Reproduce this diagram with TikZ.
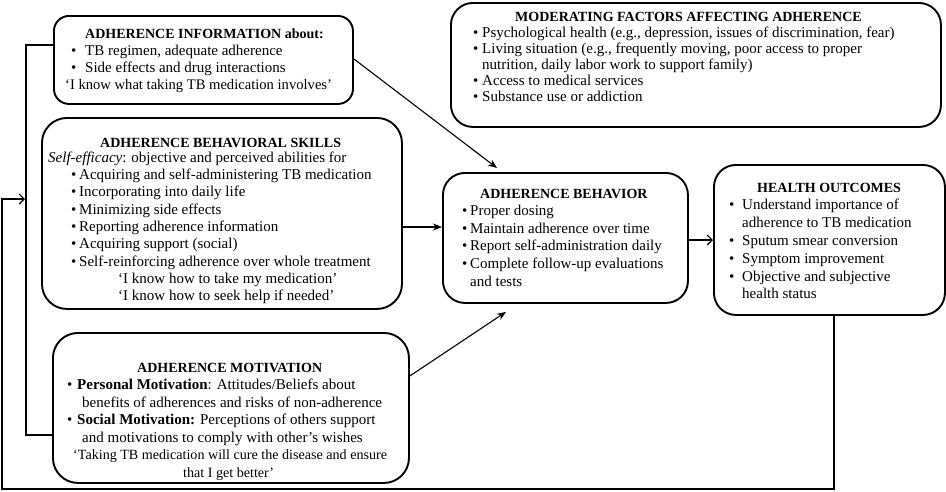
\documentclass[tikz,border=0pt]{standalone}
\usepackage{fontspec}
\setmainfont{Liberation Serif}
\usetikzlibrary{arrows.meta}
\newcommand\Ln[2]{\hbox{\kern#1pt #2}}
\newcommand\Bl[3]{\hbox{\kern#1pt\hbox to \dimexpr#2pt-#1pt\relax{\textbullet\hss}#3}}
\newcommand\ttl{\fontsize{14}{17}\selectfont\bfseries}
\newcommand\body[1]{\fontsize{15}{17.5}\selectfont\baselineskip=#1pt\lineskiplimit=-100pt\relax}
\tikzset{
  box/.style={draw, line width=1.9pt, rounded corners=#1, anchor=north west, inner sep=0pt},
  txt/.style={anchor=base west, inner sep=0pt, align=left},
  conn/.style={line width=1.1pt},
  farr/.style={conn, -{Stealth[length=9pt,width=7pt]}},
  oarr/.style={conn, -{Straight Barb[length=5pt,width=10pt]}}
}
\begin{document}
\begin{tikzpicture}[x=1pt,y=-1pt]
\useasboundingbox (0,0) rectangle (946,491);
% boxes
\node[box=15pt, minimum width=299pt, minimum height=88pt] (b1) at (53,15) {};
\node[box=25pt, minimum width=360pt, minimum height=191pt] (b2) at (41,117) {};
\node[box=25pt, minimum width=356pt, minimum height=150pt] (b3) at (52,332) {};
\node[box=22pt, minimum width=490pt, minimum height=124pt] (b4) at (450,2) {};
\node[box=22pt, minimum width=245pt, minimum height=130pt] (b5) at (442,172) {};
\node[box=22pt, minimum width=231pt, minimum height=150pt] (b6) at (713,164) {};
% texts
\node[txt] (t1) at (53,38) {\vtop{\body{17}
\Ln{32}{\ttl ADHERENCE INFORMATION about:}
\Bl{18}{32}{TB regimen, adequate adherence}
\Bl{18}{32}{Side effects and drug interactions}
\Ln{12}{\fontsize{14.6}{17}\selectfont ‘I know what taking TB medication involves’}}};
\node[txt] (t2) at (41,147) {\vtop{\body{17.3}
\Ln{59}{\ttl ADHERENCE BEHAVIORAL SKILLS}
\vskip-2pt
\Ln{7}{\textit{Self-efficacy}: objective and perceived abilities for}
\Bl{30}{38}{Acquiring and self-administering TB medication}
\Bl{30}{38}{Incorporating into daily life}
\Bl{30}{38}{Minimizing side effects}
\Bl{30}{38}{Reporting adherence information}
\Bl{30}{38}{Acquiring support (social)}
\Bl{30}{38}{Self-reinforcing adherence over whole treatment}
\Ln{77}{‘I know how to take my medication’}
\Ln{77}{‘I know how to seek help if needed’}}};
\node[txt] (t3) at (52,372) {\vtop{\body{17.5}
\Ln{85}{\ttl ADHERENCE MOTIVATION}
\Bl{15}{25}{\textbf{Personal Motivation}: Attitudes/Beliefs about}
\Ln{30}{benefits of adherences and risks of non-adherence}
\Bl{15}{25}{\textbf{Social Motivation:} Perceptions of others support}
\Ln{30}{and motivations to comply with other’s wishes}
\Ln{21}{\fontsize{14.1}{15}\selectfont ‘Taking TB medication will cure the disease and ensure}
\Ln{131}{\fontsize{14.1}{15}\selectfont that I get better’}}};
\node[txt] (t4) at (450,21) {\vtop{\body{16}
\Ln{65}{\ttl MODERATING FACTORS AFFECTING ADHERENCE}
\Bl{23}{32}{Psychological health (e.g., depression, issues of discrimination, fear)}
\Bl{23}{32}{Living situation (e.g., frequently moving, poor access to proper}
\Ln{32}{nutrition, daily labor work to support family)}
\Bl{23}{32}{Access to medical services}
\Bl{23}{32}{Substance use or addiction}}};
\node[txt] (t5) at (442,198) {\vtop{\body{17.6}
\Ln{38}{\ttl ADHERENCE BEHAVIOR}
\Bl{20}{28}{Proper dosing}
\Bl{20}{28}{Maintain adherence over time}
\Bl{20}{28}{Report self-administration daily}
\Bl{20}{28}{Complete follow-up evaluations}
\Ln{28}{and tests}}};
\node[txt] (t6) at (713,192) {\vtop{\body{17.8}
\Ln{44}{\ttl HEALTH OUTCOMES}
\Bl{16}{29}{Understand importance of}
\Ln{29}{adherence to TB medication}
\Bl{16}{29}{Sputum smear conversion}
\Bl{16}{29}{Symptom improvement}
\Bl{16}{29}{Objective and subjective}
\Ln{29}{health status}}};
% connectors
\draw[farr] ([yshift=1pt]b1.east) -- ([xshift=55pt,yshift=4pt]b5.north west);
\draw[farr] (b2.east |- 0,227) -- (b5.west |- 0,227);
\draw[farr] ([yshift=32pt]b3.east) -- ([xshift=64pt,yshift=-8pt]b5.south west);
\draw[oarr] (b5.east |- 0,240) -- (b6.west |- 0,240);
\draw[conn] ([yshift=15pt]b1.west) -- ++(-27,0) |- ([yshift=-27pt]b3.west);
\coordinate (brk) at (25,199);
\coordinate (loopc) at (2,489);
\draw[oarr] ([xshift=4.5pt]b6.south) |- (loopc) |- (brk);
\end{tikzpicture}
\end{document}
